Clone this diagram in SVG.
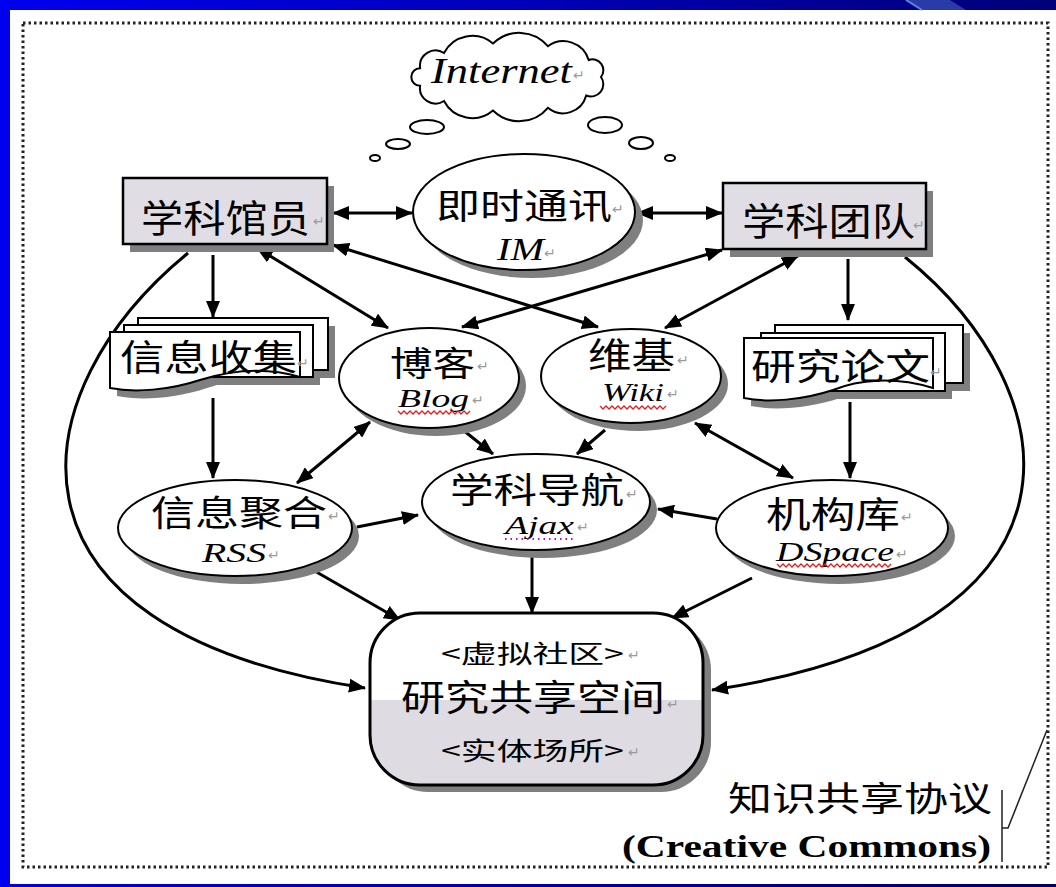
<svg xmlns="http://www.w3.org/2000/svg" width="1056" height="887" viewBox="0 0 1056 887">
<defs>
<linearGradient id="topg" x1="0" y1="0" x2="1" y2="0">
<stop offset="0" stop-color="#0000f0"/>
<stop offset="0.5" stop-color="#0000b8"/>
<stop offset="1" stop-color="#000078"/>
</linearGradient>
<linearGradient id="botg" x1="0" y1="0" x2="1" y2="0">
<stop offset="0" stop-color="#0000d8"/>
<stop offset="1" stop-color="#000060"/>
</linearGradient>
<marker id="ah" markerUnits="userSpaceOnUse" markerWidth="17" markerHeight="14" refX="16" refY="7" orient="auto-start-reverse">
<path d="M0,0 L17,7 L0,14 Z" fill="#000"/>
</marker>
<clipPath id="rrclip"><rect x="370" y="613" width="333" height="172" rx="50" ry="50"/></clipPath>
<style>
.cjk{font-family:"Noto Sans CJK SC","Noto Sans",sans-serif;fill:#000}
.it{font-family:"Liberation Serif",serif;font-style:italic;fill:#000}
.pm{font-family:"DejaVu Sans",sans-serif;font-size:14px;fill:#9a9a9a}
.shd{fill:#7f7f7f;stroke:none}
.node{fill:#fff;stroke:#000;stroke-width:2}
.box{fill:#e0dee4;stroke:#000;stroke-width:2.5}
.conn{fill:none;stroke:#000;stroke-width:3}
.wave{fill:none;stroke:#e02020;stroke-width:1.3}
</style>
</defs>
<rect width="1056" height="887" fill="#fff"/>
<rect x="0" y="0" width="1056" height="10" fill="url(#topg)"/>
<polygon points="906,0 950,0 966,10 922,10" fill="#2a3aa6"/>
<line x1="906" y1="0" x2="922" y2="10" stroke="#5a86e0" stroke-width="2"/>
<rect x="0" y="0" width="10" height="887" fill="#0000f0"/>
<rect x="10" y="884" width="1046" height="3" fill="url(#botg)"/>
<rect x="23" y="23" width="1025" height="844" fill="none" stroke="#222" stroke-width="3" stroke-dasharray="2.5 3"/>

<g id="internet">
<path d="M601,77 A12.3,12.3 0 0 1 586.2,95.5 A23.9,23.9 0 0 1 547.9,107.8 A37.5,37.5 0 0 1 493,110.5 A31.9,31.9 0 0 1 444,101 A15.6,15.6 0 0 1 420.1,85.8 A8.8,8.8 0 0 1 420.1,68.2 A15.6,15.6 0 0 1 444,53 A31.9,31.9 0 0 1 493,43.5 A37.5,37.5 0 0 1 547.9,46.2 A26.5,26.5 0 0 1 588.7,60 A10.9,10.9 0 0 1 601,77 Z" fill="#fff" stroke="#000" stroke-width="2"/>
<text class="it" x="431" y="83" font-size="36" textLength="141" lengthAdjust="spacingAndGlyphs">Internet</text>
<text class="pm" x="573" y="80">↵</text>
<ellipse cx="427" cy="127" rx="17" ry="7" fill="#fff" stroke="#000" stroke-width="2"/>
<ellipse cx="398" cy="144" rx="12" ry="5" fill="#fff" stroke="#000" stroke-width="2"/>
<ellipse cx="375" cy="158" rx="5" ry="3" fill="#fff" stroke="#000" stroke-width="2"/>
<ellipse cx="605" cy="125" rx="17" ry="8" fill="#fff" stroke="#000" stroke-width="2"/>
<ellipse cx="641" cy="143" rx="12" ry="6" fill="#fff" stroke="#000" stroke-width="2"/>
<ellipse cx="670" cy="158" rx="5" ry="3" fill="#fff" stroke="#000" stroke-width="2"/>
</g>

<g id="connectors">
<path class="conn" d="M188,253 C20,390 -20,630 365,688" marker-end="url(#ah)"/>
<path class="conn" d="M905,257 C1070,390 1110,630 712,690" marker-end="url(#ah)"/>
<line class="conn" x1="333" y1="213" x2="412" y2="213" marker-start="url(#ah)" marker-end="url(#ah)"/>
<line class="conn" x1="637" y1="213" x2="722" y2="213" marker-start="url(#ah)" marker-end="url(#ah)"/>
<line class="conn" x1="213" y1="255" x2="213" y2="317" marker-end="url(#ah)"/>
<line class="conn" x1="257" y1="248" x2="388" y2="328" marker-start="url(#ah)" marker-end="url(#ah)"/>
<line class="conn" x1="333" y1="245" x2="598" y2="327" marker-start="url(#ah)" marker-end="url(#ah)"/>
<line class="conn" x1="722" y1="250" x2="462" y2="327" marker-start="url(#ah)" marker-end="url(#ah)"/>
<line class="conn" x1="798" y1="256" x2="665" y2="328" marker-start="url(#ah)" marker-end="url(#ah)"/>
<line class="conn" x1="848" y1="259" x2="848" y2="320" marker-end="url(#ah)"/>
<line class="conn" x1="213" y1="398" x2="213" y2="478" marker-end="url(#ah)"/>
<line class="conn" x1="850" y1="402" x2="850" y2="478" marker-end="url(#ah)"/>
<line class="conn" x1="370" y1="422" x2="297" y2="483" marker-start="url(#ah)" marker-end="url(#ah)"/>
<line class="conn" x1="463" y1="430" x2="493" y2="454" marker-end="url(#ah)"/>
<line class="conn" x1="605" y1="430" x2="577" y2="454" marker-end="url(#ah)"/>
<line class="conn" x1="695" y1="423" x2="793" y2="478" marker-start="url(#ah)" marker-end="url(#ah)"/>
<line class="conn" x1="357" y1="527" x2="418" y2="515" marker-end="url(#ah)"/>
<line class="conn" x1="717" y1="519" x2="658" y2="509" marker-end="url(#ah)"/>
<line class="conn" x1="532" y1="553" x2="532" y2="613" marker-end="url(#ah)"/>
<line class="conn" x1="313" y1="570" x2="400" y2="620" marker-end="url(#ah)"/>
<line class="conn" x1="752" y1="578" x2="672" y2="618" marker-end="url(#ah)"/>
</g>

<g id="im">
<ellipse class="shd" cx="532" cy="220" rx="111" ry="58"/>
<ellipse class="node" cx="524" cy="212" rx="111" ry="58"/>
<text class="cjk" x="436" y="219" font-size="35" textLength="176" lengthAdjust="spacingAndGlyphs">即时通讯</text>
<text class="pm" x="612" y="214">↵</text>
<text class="it" x="497" y="260" font-size="31" textLength="47" lengthAdjust="spacingAndGlyphs">IM</text>
<text class="pm" x="544" y="258">↵</text>
</g>

<g id="librarian">
<rect class="shd" x="130" y="186" width="204" height="66"/>
<rect class="box" x="123" y="178" width="204" height="66"/>
<text class="cjk" x="141" y="232" font-size="38" textLength="169" lengthAdjust="spacingAndGlyphs">学科馆员</text>
<text class="pm" x="313" y="226" font-size="12">↵</text>
</g>

<g id="team">
<rect class="shd" x="730" y="191" width="203" height="66"/>
<rect class="box" x="723" y="183" width="203" height="66"/>
<text class="cjk" x="742" y="235" font-size="38" textLength="173" lengthAdjust="spacingAndGlyphs">学科团队</text>
<text class="pm" x="913" y="230" font-size="12">↵</text>
</g>

<g id="collect">
<g transform="translate(7,8)">
<rect class="shd" x="138" y="318" width="190" height="52"/>
<rect class="shd" x="124" y="325" width="189" height="52"/>
<path class="shd" d="M110,332 H300 V377 C260,365 225,372 200,380 C170,390 135,393 110,388 Z"/>
</g>
<rect class="node" x="138" y="318" width="190" height="52"/>
<rect class="node" x="124" y="325" width="189" height="52"/>
<path class="node" d="M110,332 H300 V377 C260,365 225,372 200,380 C170,390 135,393 110,388 Z"/>
<text class="cjk" x="120" y="371" font-size="36" textLength="177" lengthAdjust="spacingAndGlyphs">信息收集</text>
<text class="pm" x="297" y="368">↵</text>
</g>

<g id="papers">
<g transform="translate(7,8)">
<rect class="shd" x="775" y="325" width="188" height="58"/>
<rect class="shd" x="761" y="333" width="184" height="58"/>
<path class="shd" d="M744,338 H933 V388 C893,376 858,380 833,390 C803,400 768,403 744,398 Z"/>
</g>
<rect class="node" x="775" y="325" width="188" height="58"/>
<rect class="node" x="761" y="333" width="184" height="58"/>
<path class="node" d="M744,338 H933 V388 C893,376 858,380 833,390 C803,400 768,403 744,398 Z"/>
<text class="cjk" x="751" y="380" font-size="36" textLength="179" lengthAdjust="spacingAndGlyphs">研究论文</text>
<text class="pm" x="930" y="377">↵</text>
</g>

<g id="blog">
<ellipse class="shd" cx="436" cy="386" rx="90" ry="50"/>
<ellipse class="node" cx="429" cy="378" rx="90" ry="50"/>
<text class="cjk" x="390" y="376" font-size="34" textLength="85" lengthAdjust="spacingAndGlyphs">博客</text>
<text class="pm" x="477" y="371">↵</text>
<text class="it" x="398" y="407" font-size="25" textLength="71" lengthAdjust="spacingAndGlyphs">Blog</text>
<text class="pm" x="472" y="405">↵</text>
<path class="wave" d="M398,411 l3,3 l3,-3 l3,3 l3,-3 l3,3 l3,-3 l3,3 l3,-3 l3,3 l3,-3 l3,3 l3,-3 l3,3 l3,-3 l3,3 l3,-3 l3,3 l3,-3 l3,3 l3,-3 l3,3 l3,-3 l3,3 l3,-3"/>
</g>

<g id="wiki">
<ellipse class="shd" cx="638" cy="384" rx="90" ry="47"/>
<ellipse class="node" cx="631" cy="376" rx="90" ry="47"/>
<text class="cjk" x="588" y="369" font-size="36" textLength="87" lengthAdjust="spacingAndGlyphs">维基</text>
<text class="pm" x="677" y="365">↵</text>
<text class="it" x="602" y="401" font-size="26" textLength="62" lengthAdjust="spacingAndGlyphs">Wiki</text>
<text class="pm" x="667" y="399">↵</text>
<path class="wave" d="M600,406 l3,3 l3,-3 l3,3 l3,-3 l3,3 l3,-3 l3,3 l3,-3 l3,3 l3,-3 l3,3 l3,-3 l3,3 l3,-3 l3,3 l3,-3 l3,3 l3,-3 l3,3 l3,-3 l3,3 l3,-3"/>
</g>

<g id="nav">
<ellipse class="shd" cx="543" cy="510" rx="114" ry="48"/>
<ellipse class="node" cx="536" cy="502" rx="114" ry="48"/>
<text class="cjk" x="450" y="503" font-size="35" textLength="174" lengthAdjust="spacingAndGlyphs">学科导航</text>
<text class="pm" x="626" y="499">↵</text>
<text class="it" x="505" y="534" font-size="26" textLength="69" lengthAdjust="spacingAndGlyphs">Ajax</text>
<text class="pm" x="577" y="532">↵</text>
<line x1="505" y1="539" x2="575" y2="539" stroke="#d000d0" stroke-width="2" stroke-dasharray="1.5 4"/>
</g>

<g id="rss">
<ellipse class="shd" cx="242" cy="536" rx="117" ry="48"/>
<ellipse class="node" cx="235" cy="528" rx="117" ry="48"/>
<text class="cjk" x="151" y="526" font-size="35" textLength="176" lengthAdjust="spacingAndGlyphs">信息聚合</text>
<text class="pm" x="328" y="521">↵</text>
<text class="it" x="202" y="562" font-size="27" textLength="64" lengthAdjust="spacingAndGlyphs">RSS</text>
<text class="pm" x="268" y="560">↵</text>
</g>

<g id="dspace">
<ellipse class="shd" cx="839" cy="536" rx="116" ry="48"/>
<ellipse class="node" cx="832" cy="528" rx="116" ry="48"/>
<text class="cjk" x="766" y="528" font-size="36" textLength="134" lengthAdjust="spacingAndGlyphs">机构库</text>
<text class="pm" x="901" y="522">↵</text>
<text class="it" x="776" y="561" font-size="27" textLength="118" lengthAdjust="spacingAndGlyphs">DSpace</text>
<text class="pm" x="896" y="559">↵</text>
<path class="wave" d="M777,564 l3,3 l3,-3 l3,3 l3,-3 l3,3 l3,-3 l3,3 l3,-3 l3,3 l3,-3 l3,3 l3,-3 l3,3 l3,-3 l3,3 l3,-3 l3,3 l3,-3 l3,3 l3,-3 l3,3 l3,-3 l3,3 l3,-3 l3,3 l3,-3 l3,3 l3,-3 l3,3 l3,-3 l3,3 l3,-3 l3,3 l3,-3 l3,3 l3,-3 l3,3 l3,-3"/>
</g>

<g id="space">
<rect class="shd" x="378" y="620" width="333" height="172" rx="50" ry="50"/>
<rect x="370" y="613" width="333" height="172" rx="50" ry="50" fill="#fff"/>
<rect x="370" y="700" width="333" height="90" fill="#dedce2" clip-path="url(#rrclip)"/>
<rect x="370" y="613" width="333" height="172" rx="50" ry="50" fill="none" stroke="#000" stroke-width="3"/>
<text class="cjk" x="441" y="663" font-size="25" textLength="183" lengthAdjust="spacingAndGlyphs">&lt;虚拟社区&gt;</text>
<text class="pm" x="628" y="660">↵</text>
<text class="cjk" x="401" y="711" font-size="36" textLength="264" lengthAdjust="spacingAndGlyphs">研究共享空间</text>
<text class="pm" x="667" y="709">↵</text>
<text class="cjk" x="441" y="760" font-size="25" textLength="183" lengthAdjust="spacingAndGlyphs">&lt;实体场所&gt;</text>
<text class="pm" x="628" y="757">↵</text>
</g>

<g id="license">
<text class="cjk" x="728" y="811" font-size="34" textLength="264" lengthAdjust="spacingAndGlyphs">知识共享协议</text>
<text x="622" y="857" font-family="Liberation Serif, serif" font-weight="bold" font-size="32" textLength="369" lengthAdjust="spacingAndGlyphs">(Creative Commons)</text>
<path d="M1002,790 V862 M1002,828 H1008 L1047,730" fill="none" stroke="#222" stroke-width="1.5"/>
</g>
</svg>
